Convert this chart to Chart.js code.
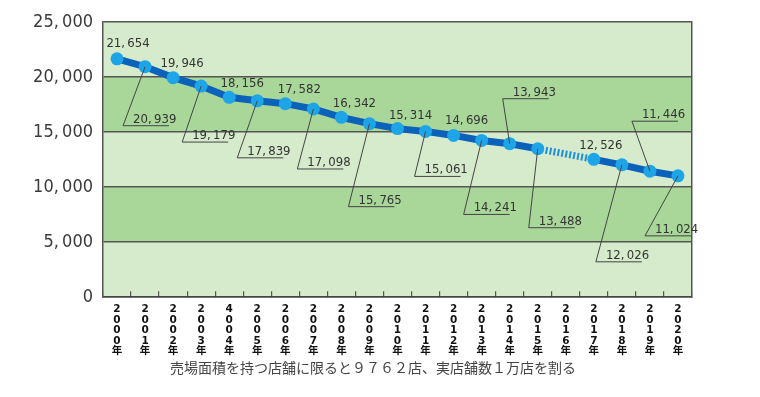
<!DOCTYPE html>
<html>
<head>
<meta charset="utf-8">
<script src="https://cdn.jsdelivr.net/npm/chart.js@4"></script>
<style>
  html, body { margin: 0; padding: 0; background: #fff; }
  #wrap { width: 760px; height: 397px; }
</style>
</head>
<body>
<div id="wrap"><canvas id="myChart"></canvas></div>
<script>
// 年ごとの店舗数
const years = ['2000年', '2001年', '2002年', '2003年', '4004年', '2005年', '2006年', '2007年', '2008年', '2009年', '2010年',
               '2011年', '2012年', '2013年', '2014年', '2015年', '2016年', '2017年', '2018年', '2019年', '2020年'];
const stores = [21654, 20939, 19946, 19179, 18156, 17839, 17582, 17098, 16342, 15765, 15314,
                15061, 14696, 14241, 13943, 13488, null, 12526, 12026, 11446, 11024];
const yTicks = [0, 5000, 10000, 15000, 20000, 25000];
const caption = '売場面積を持つ店舗に限ると９７６２店、実店舗数１万店を割る';

// ラベルの置き方 (上 or 引き出し線) と点からのずれ
const labelLayout = [
    ['top', 11, -15], ['lead', -22, 59], ['top', 9, -14], ['lead', -19, 56], ['top', 13, -14],
    ['lead', -20, 57], ['top', 14, -14], ['lead', -16, 60], ['top', 13, -14], ['lead', -21, 83],
    ['top', 13, -13], ['lead', -11, 45], ['top', 13, -15], ['lead', -18, 74], ['lead', -7, -45],
    ['lead', -9, 79], null, ['top', 7, -14], ['lead', -26, 97], ['lead', -18, -50], ['lead', -33, 60]
];

const fmt = v => {
    const s = v.toLocaleString('en-US');
    return s.replace(',', ',\u2009');
};

// 背景の帯
const bandPlugin = {
    id: 'bands',
    beforeDraw(chart) {
        const {ctx, chartArea, scales: {y}} = chart;
        ctx.save();
        for (let i = 0; i < yTicks.length - 1; i++) {
            const top = y.getPixelForValue(yTicks[i + 1]);
            const bot = y.getPixelForValue(yTicks[i]);
            ctx.fillStyle = i % 2 === 0 ? '#d6ebcc' : '#a9d699';
            ctx.fillRect(chartArea.left, top, chartArea.right - chartArea.left, bot - top);
        }
        ctx.restore();
    }
};

// 数値ラベル
const valueLabels = {
    id: 'valueLabels',
    afterDatasetsDraw(chart) {
        const {ctx} = chart;
        const meta = chart.getDatasetMeta(0);
        ctx.save();
        ctx.font = '13px "Liberation Sans Narrow", "DejaVu Sans Condensed", sans-serif';
        ctx.fillStyle = '#333';
        ctx.strokeStyle = '#444';
        ctx.lineWidth = 1;
        stores.forEach((v, i) => {
            const lay = labelLayout[i];
            if (v === null || !lay) return;
            const pt = meta.data[i];
            const ax = pt.x + lay[1];
            const ay = pt.y + lay[2];
            if (lay[0] === 'top') {
                ctx.textAlign = 'center';
                ctx.textBaseline = 'middle';
                ctx.fillText(fmt(v), ax, ay);
            } else {
                ctx.beginPath();
                ctx.moveTo(pt.x, pt.y);
                ctx.lineTo(ax, ay);
                ctx.lineTo(ax + 46, ay);
                ctx.stroke();
                ctx.textAlign = 'left';
                ctx.textBaseline = 'alphabetic';
                ctx.fillText(fmt(v), ax + 10, ay - 3);
            }
        });
        ctx.restore();
    }
};

// 欠けている年をまたぐ区間は点線
const gapSeg = c => stores[c.p0DataIndex] === null || stores[c.p1DataIndex - 1] === null;

const ctx1 = document.getElementById('myChart');

new Chart(ctx1, {
    type: 'line',
    data: {
        labels: years,
        datasets: [{
            data: stores,
            borderColor: '#0a62bb',
            borderWidth: 7,
            pointRadius: 6.5,
            pointBackgroundColor: '#1ea5e8',
            pointBorderWidth: 0,
            spanGaps: true,
            tension: 0,
            segment: {
                borderColor: c => gapSeg(c) ? '#1f8fdc' : undefined,
                borderDash: c => gapSeg(c) ? [2, 2] : undefined
            }
        }]
    },
    options: {
        responsive: true,
        maintainAspectRatio: false,
        animation: false,
        layout: {padding: {left: 0, right: 14, top: 22, bottom: 21}},
        plugins: {
            legend: {display: false},
            tooltip: {enabled: false},
            title: {
                display: true,
                position: 'bottom',
                text: caption,
                color: '#444',
                font: {family: '"Noto Sans CJK JP", sans-serif', size: 14, weight: 'normal'},
                padding: {top: 0, bottom: 0}
            }
        },
        scales: {
            x: {
                offset: true,
                grid: {
                    offset: true,
                    drawOnChartArea: false,
                    tickLength: -6,
                    color: '#555',
                    lineWidth: 1.2
                },
                border: {display: true, color: '#444', width: 1.5},
                ticks: {
                    autoSkip: false,
                    maxRotation: 0,
                    padding: 13,
                    color: '#111',
                    font: {family: '"DejaVu Sans", "Noto Sans CJK JP", sans-serif', size: 10.5, weight: 'bold', lineHeight: 1.0},
                    callback: function(value) {
                        return this.getLabelForValue(value).split('');
                    }
                },
                afterFit: s => { s.height = 62; }
            },
            y: {
                min: 0,
                max: 25000,
                afterBuildTicks: s => { s.ticks = yTicks.map(v => ({value: v})); },
                grid: {color: '#555', lineWidth: 1.5, drawTicks: false},
                border: {display: true, color: '#555', width: 1.5},
                ticks: {
                    padding: 10,
                    color: '#3a3a3a',
                    font: {family: '"Liberation Sans Narrow", "DejaVu Sans Condensed", sans-serif', size: 18},
                    callback: v => v === 0 ? '0' : fmt(v)
                },
                afterFit: s => { s.width = 103; }
            },
            y2: {
                position: 'right',
                display: true,
                min: 0,
                max: 25000,
                grid: {drawOnChartArea: false, drawTicks: false},
                border: {display: true, color: '#555', width: 1.5},
                ticks: {display: false},
                afterFit: s => { s.width = 54; }
            }
        }
    },
    plugins: [bandPlugin, valueLabels]
});
</script>
</body>
</html>
